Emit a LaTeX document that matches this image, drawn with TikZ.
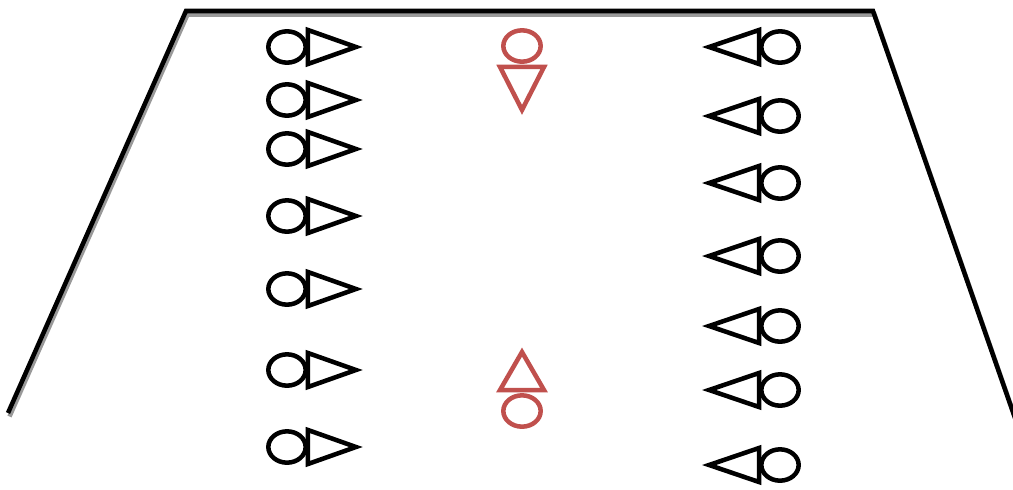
\documentclass[tikz,border=0pt]{standalone}
\usetikzlibrary{shapes.geometric}
\definecolor{redteam}{RGB}{192,80,77}
\begin{document}
\begin{tikzpicture}[
    x=0.75pt, y=-0.75pt,
    glyph/.style={line width=3.4pt, miter limit=20},
    head/.style={draw, ellipse, glyph, inner sep=0pt, minimum width=28pt, minimum height=23.5pt},
    field/.style={line width=3.4pt, line join=miter},
    drop/.style={shift={(1.5,3.5)}},
]
\useasboundingbox (0,0) rectangle (1013,489);
% field outline with shadow
\coordinate (bl) at (8,413);
\coordinate (tl) at (186,11);
\coordinate (tr) at (873,11);
\coordinate (br) at (1015,418);
\draw[field, gray!80] ([drop]bl) -- ([drop]tl) -- ([drop]tr) -- ([drop]br);
\draw[field] (bl) -- (tl) -- (tr) -- (br);
% left side players
\foreach \y [count=\i] in {47,100,149,216,289,370,447} {
  \node[head] (l\i) at (287,\y) {};
  \draw[glyph] (l\i.east) ++(0,-17) -- ++(0,34) -- ++(48,-17) -- cycle;
}
% right side players
\foreach \y [count=\i] in {47,116,183,256,326,390,465} {
  \node[head] (r\i) at (780,\y) {};
  \draw[glyph] (r\i.west) ++(0,-17) -- ++(0,34) -- ++(-50,-17) -- cycle;
}
% middle
\node[head, redteam] (m1) at (522,46) {};
\draw[glyph, redteam] (m1.south) ++(-22,3) -- ++(44,0) -- ++(-22,43) -- cycle;
\node[head, redteam] (m2) at (522,411) {};
\draw[glyph, redteam] (m2.north) ++(-22,-3) -- ++(44,0) -- ++(-22,-38) -- cycle;
\end{tikzpicture}
\end{document}
